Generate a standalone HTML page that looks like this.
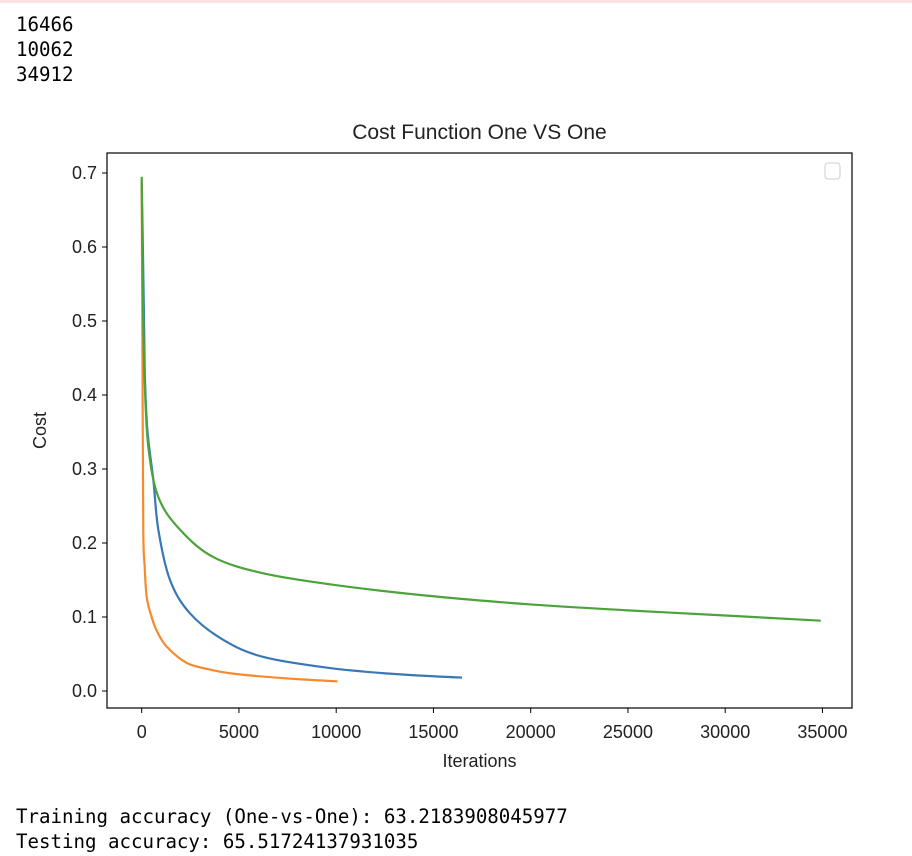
<!DOCTYPE html>
<html><head><meta charset="utf-8"><style>
body{margin:0;background:#fff;width:912px;height:856px;overflow:hidden;position:relative;font-family:"Liberation Sans",sans-serif}
.mono{position:absolute;left:16px;font-family:"DejaVu Sans Mono","Liberation Mono",monospace;font-size:19.1px;line-height:25px;color:#000}
</style></head><body>
<div style="position:absolute;left:0;top:0;width:912px;height:3px;background:#fde0e0"></div>
<div class="mono" style="top:12px">16466</div>
<div class="mono" style="top:37px">10062</div>
<div class="mono" style="top:62px">34912</div>
<svg id="chart" width="912" height="800" style="position:absolute;left:0;top:0"></svg>
<div class="mono" style="top:804px">Training accuracy (One-vs-One): 63.2183908045977</div>
<div class="mono" style="top:829px">Testing accuracy: 65.51724137931035</div>
<script>
const xTicks=[0,5000,10000,15000,20000,25000,30000,35000];
const yTicks=[0.0,0.1,0.2,0.3,0.4,0.5,0.6,0.7];
const blueX=[0,60,120,170,300,600,855,1455,2480,4200,6250,9680,13000,16466];
const blueY=[0.69,0.6,0.5,0.42,0.35,0.285,0.218,0.15,0.105,0.069,0.046,0.031,0.023,0.018];
const orangeX=[0,40,80,150,257,510,800,1285,2310,3500,4540,6000,8000,10062];
const orangeY=[0.69,0.45,0.22,0.17,0.127,0.1,0.08,0.06,0.038,0.029,0.024,0.02,0.016,0.013];
const greenX=[0,30,80,150,340,855,1970,3680,6250,10000,15000,20000,25000,30000,34912];
const greenY=[0.695,0.6,0.5,0.42,0.33,0.262,0.218,0.181,0.159,0.143,0.128,0.117,0.109,0.102,0.095];
const svg=document.getElementById('chart');const NS='http://www.w3.org/2000/svg';
const L=107,R=852,T=153,B=708;
const sx=v=>141.7+v*0.01945, sy=v=>691-v*740;
function mk(tag,attrs,txt){const e=document.createElementNS(NS,tag);for(const k in attrs)e.setAttribute(k,attrs[k]);if(txt!==undefined)e.textContent=txt;svg.appendChild(e);return e;}
function series(xs,ys,color,name){
 const P=xs.map((x,i)=>[sx(x),sy(ys[i])]);
 let d='M'+P[0][0]+','+P[0][1];
 for(let i=0;i<P.length-1;i++){
  const p0=P[Math.max(i-1,0)],p1=P[i],p2=P[i+1],p3=P[Math.min(i+2,P.length-1)];
  const c1=[p1[0]+(p2[0]-p0[0])/6,p1[1]+(p2[1]-p0[1])/6];
  const c2=[p2[0]-(p3[0]-p1[0])/6,p2[1]-(p3[1]-p1[1])/6];
  d+=' C'+c1[0]+','+c1[1]+' '+c2[0]+','+c2[1]+' '+p2[0]+','+p2[1];
 }
 const p=mk('path',{d:d,fill:'none',stroke:color,'stroke-width':2.2,'stroke-linejoin':'round'});
 
 
}
series(blueX,blueY,'#3a78b5','series-blue');
series(orangeX,orangeY,'#f58b2c','series-orange');
series(greenX,greenY,'#4aa43a','series-green');
const box=mk('rect',{x:L,y:T,width:R-L,height:B-T,fill:'none',stroke:'#000','stroke-width':1.2});


xTicks.forEach(v=>{const x=sx(v);mk('line',{x1:x,x2:x,y1:B,y2:B+5,stroke:'#000'});
 const t=mk('text',{x:x,y:B+30,'text-anchor':'middle','font-size':'18px',fill:'#222'},String(v));
 
 });
yTicks.forEach(v=>{const y=sy(v);mk('line',{x1:L-5,x2:L,y1:y,y2:y,stroke:'#000'});
 const t=mk('text',{x:L-10,y:y+6,'text-anchor':'end','font-size':'18px',fill:'#222'},v.toFixed(1));
 
 });
const tt=mk('text',{x:(L+R)/2,y:139,'text-anchor':'middle','font-size':'21px',fill:'#222'},'Cost Function One VS One');


const xl=mk('text',{x:(L+R)/2,y:767,'text-anchor':'middle','font-size':'18px',fill:'#222'},'Iterations');


const yl=mk('text',{x:46,y:(T+B)/2,'text-anchor':'middle','font-size':'18px',fill:'#222',transform:'rotate(-90 46 '+((T+B)/2)+')'},'Cost');


const lg=mk('rect',{x:825,y:163,width:15,height:16,rx:3,fill:'#fff',stroke:'#ccc'});


</script>
</body></html>
